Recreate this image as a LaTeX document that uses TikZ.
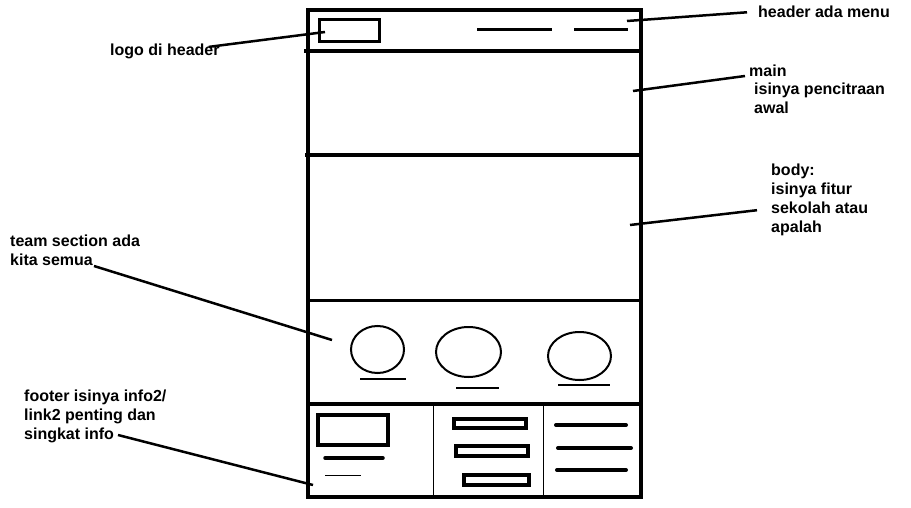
\documentclass[tikz,border=0pt]{standalone}
\usepackage{fontspec}
\setmainfont{Liberation Sans}
\usetikzlibrary{positioning,calc,shapes.geometric}
\tikzset{
  every node/.style={text=black},
  frameline/.style={draw=black,line width=4pt},
  midline/.style={draw=black,line width=3pt},
  hairline/.style={draw=black,line width=1pt},
  barline/.style={draw=black,line width=4pt,line cap=round},
  linkbox/.style={draw=black,line width=4pt},
  avatar/.style={ellipse,draw=black,line width=2pt,inner sep=0pt},
  namebar/.style={draw=black,line width=2.5pt},
  leader/.style={draw=black,line width=2.5pt},
  note/.style={font=\fontsize{16}{18.7}\selectfont\bfseries,inner sep=0pt,align=left}
}
\begin{document}
\begin{tikzpicture}[x=1pt,y=-1pt]
  \useasboundingbox (0,0) rectangle (911,508);
  % wireframe
  \draw[frameline] (308,10) rectangle (641,497);
  \draw[frameline] (304,51) -- (641,51);
  \draw[frameline] (305,155) -- (641,155);
  \draw[midline] (308,300) -- (641,300);
  \draw[frameline] (308,404) -- (641,404);
  \draw[hairline] (433,404) -- (433,497);
  \draw[hairline] (543,404) -- (543,497);

  \draw[midline] (319.5,20) rectangle (379,41.5);
  \draw[midline] (477,30) -- (552,30);
  \draw[midline] (574,30) -- (628,30);

  \node[avatar,minimum width=53pt,minimum height=47pt] (member1) at (377.5,349.5) {};
  \node[avatar,minimum width=65pt,minimum height=50pt] (member2) at (468.5,352) {};
  \node[avatar,minimum width=63pt,minimum height=48pt] (member3) at (579.5,356) {};
  \draw[namebar] (360,379) -- (406,379);
  \draw[namebar] (456,388) -- (499,388);
  \draw[namebar] (558,385) -- (610,385);

  \draw[linkbox] (318,415) rectangle (388,445);
  \draw[barline,line width=3.5pt] (325,458) -- (383,458);
  \draw[hairline] (325,475) -- (361,475);
  \draw[linkbox] (454,419) rectangle (526,428);
  \draw[linkbox] (456,446) rectangle (528,456);
  \draw[linkbox] (464,475) rectangle (529,485);
  \draw[barline] (556,425) -- (626,425);
  \draw[barline] (558,448) -- (631,448);
  \draw[barline] (557,470) -- (626,470);

  % notes
  \node[note,anchor=base west] (menulbl) at (758,18) {header ada menu};
  \node[note,anchor=base west] (logolbl) at (110,56) {logo di header};
  \node[note,anchor=north west] (mainlbl) at (749,64.5) {main\\\hspace*{5pt}isinya pencitraan\\\hspace*{5pt}awal};
  \node[note,anchor=north west] (bodylbl) at (771,164.2) {body:\\isinya fitur\\sekolah atau\\apalah};
  \node[note,anchor=north west] (teamlbl) at (10,235) {team section ada\\kita semua};
  \node[note,anchor=north west] (footlbl) at (24,390) {footer isinya info2/\\link2 penting dan\\singkat info};

  \coordinate (menupt) at (627,21);
  \coordinate (logopt) at (325,32);
  \coordinate (mainpt) at (633,91);
  \coordinate (bodypt) at (630,225);
  \coordinate (teampt) at (332,340);
  \coordinate (footpt) at (313,485);

  \draw[leader] ([xshift=-11pt]menulbl.west) -- (menupt);
  \draw[leader] ([xshift=-11pt,yshift=5pt]logolbl.east) -- (logopt);
  \draw[leader] ([xshift=-4pt,yshift=-11.5pt]mainlbl.north west) -- (mainpt);
  \draw[leader] ([xshift=-14pt,yshift=-46pt]bodylbl.north west) -- (bodypt);
  \draw[leader] ([xshift=84pt,yshift=-31pt]teamlbl.north west) -- (teampt);
  \draw[leader] ([xshift=94pt,yshift=-45pt]footlbl.north west) -- (footpt);
\end{tikzpicture}
\end{document}
